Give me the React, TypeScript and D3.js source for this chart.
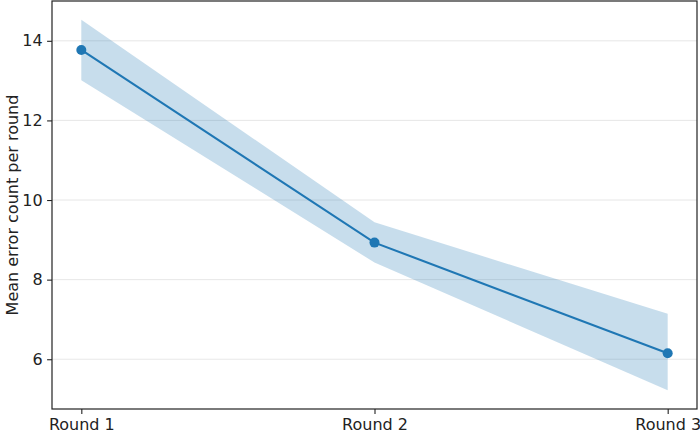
import * as d3 from 'd3';
import { useEffect, useRef } from 'react';

const ROUNDS = ['Round 1', 'Round 2', 'Round 3'];
const MEAN = [13.77, 8.93, 6.15];
const UPPER = [14.53, 9.44, 7.14];
const LOWER = [13.01, 8.43, 5.22];
const Y_TICKS = [6, 8, 10, 12, 14];

const WIDTH = 700;
const HEIGHT = 436;
const COLOR = '#1f77b4';
const FONT = '"DejaVu Sans", sans-serif';
const FONT_SIZE = 16;

function App() {
  const svgRef = useRef<SVGSVGElement>(null);

  useEffect(() => {
    if (!svgRef.current) { return; }
    const svg = d3.select(svgRef.current);
    svg.selectAll('*').remove();

    const margin = { top: 1, right: 3, bottom: 27, left: 52 };
    const chartWidth = WIDTH - margin.left - margin.right;
    const chartHeight = HEIGHT - margin.top - margin.bottom;

    // matplotlib-style 5% margins on each side
    const xIdx = d3.scaleLinear().domain([-0.1, 2.1]).range([0, chartWidth]);
    const x = d3.scalePoint<string>()
      .domain(ROUNDS)
      .range([xIdx(0), xIdx(2)])
      .padding(0);

    const y = d3.scaleLinear()
      .domain([4.75, 15.0])
      .range([chartHeight, 0]);

    const g = svg.append('g').attr('transform', `translate(${margin.left},${margin.top})`);

    // grid
    g.append('g')
      .selectAll('line')
      .data(Y_TICKS)
      .join('line')
      .attr('x1', 0)
      .attr('x2', chartWidth)
      .attr('y1', d => y(d))
      .attr('y2', d => y(d))
      .attr('stroke', '#b0b0b0')
      .attr('stroke-opacity', 0.3)
      .attr('stroke-width', 1);

    // band
    const area = d3.area<number>()
      .x((_, i) => xIdx(i))
      .y0((_, i) => y(LOWER[i]))
      .y1((_, i) => y(UPPER[i]));
    g.append('path')
      .datum(MEAN)
      .attr('d', area)
      .attr('fill', COLOR)
      .attr('fill-opacity', 0.25);

    // line
    const line = d3.line<number>()
      .x((_, i) => xIdx(i))
      .y(d => y(d));
    g.append('path')
      .datum(MEAN)
      .attr('d', line)
      .attr('fill', 'none')
      .attr('stroke', COLOR)
      .attr('stroke-width', 2.1);

    g.append('g')
      .selectAll('circle')
      .data(MEAN)
      .join('circle')
      .attr('cx', (_, i) => xIdx(i))
      .attr('cy', d => y(d))
      .attr('r', 5)
      .attr('fill', COLOR);

    // axes
    const xAxis = g.append('g')
      .attr('transform', `translate(0,${chartHeight})`)
      .call(d3.axisBottom(x).tickSize(4.9).tickPadding(4.5).tickSizeOuter(0));
    xAxis.select('.domain').remove();

    const yAxis = g.append('g')
      .call(d3.axisLeft(y).tickValues(Y_TICKS).tickFormat(d3.format('d')).tickSize(4.9).tickPadding(4.5));
    yAxis.select('.domain').remove();

    [xAxis, yAxis].forEach(ax => {
      ax.attr('font-size', FONT_SIZE).attr('font-family', FONT);
      ax.selectAll('text')
        .attr('fill', '#222');
      ax.selectAll('line').attr('stroke', '#222').attr('stroke-width', 1.1);
    });

    // spines
    g.append('rect')
      .attr('x', 0)
      .attr('y', 0)
      .attr('width', chartWidth)
      .attr('height', chartHeight)
      .attr('fill', 'none')
      .attr('stroke', '#222')
      .attr('stroke-width', 1.2);

    svg.append('text')
      .attr('transform', `translate(12,${margin.top + chartHeight / 2}) rotate(-90)`)
      .attr('text-anchor', 'middle')
      .attr('dominant-baseline', 'central')
      .attr('fill', '#222')
      .attr('font-size', FONT_SIZE)
      .attr('font-family', FONT)
      .text('Mean error count per round');
  }, []);

  return (
    <svg
      ref={svgRef}
      width={WIDTH}
      height={HEIGHT}
      style={{ position: 'absolute', left: 0, top: 0, background: '#fff' }}
    />
  );
}

export default App;
